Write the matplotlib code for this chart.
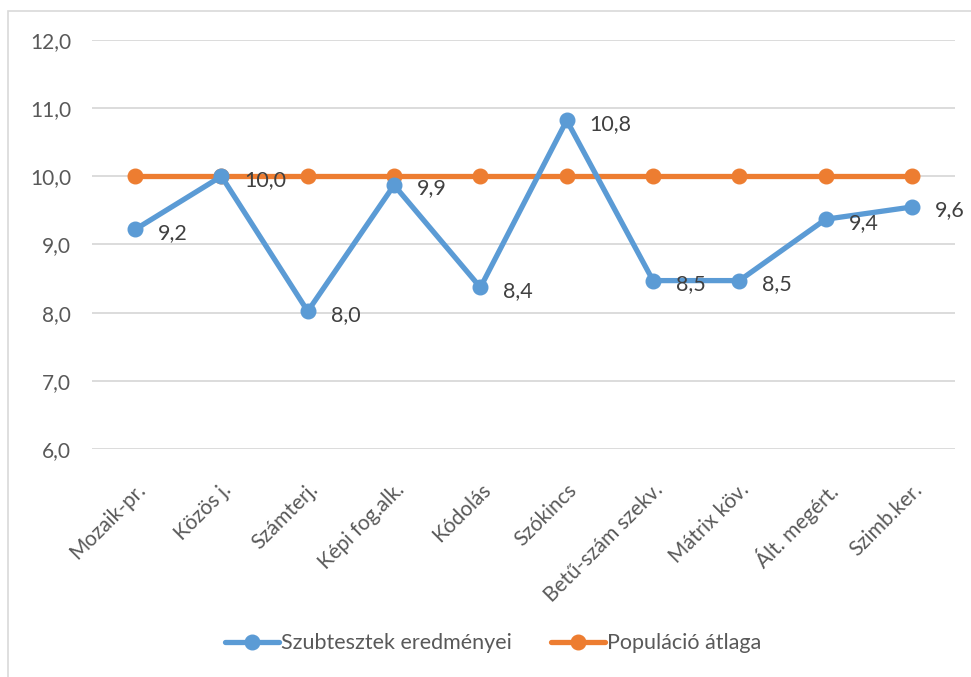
import matplotlib
matplotlib.use("Agg")
import matplotlib.pyplot as plt
from matplotlib.patches import Rectangle

categories = ["Mozaik-pr.", "Közös j.", "Számterj.", "Képi fog.alk.", "Kódolás",
              "Szókincs", "Betű-szám szekv.", "Mátrix köv.", "Ált. megért.", "Szimb.ker."]
subtests = [9.22, 10.0, 8.02, 9.87, 8.37, 10.82, 8.47, 8.47, 9.37, 9.55]
population = [10.0] * 10
series_names = ["Szubtesztek eredményei", "Populáció átlaga"]
yticks = [6.0, 7.0, 8.0, 9.0, 10.0, 11.0, 12.0]

plt.rcParams['font.family'] = ['Lato', 'DejaVu Sans']

fig = plt.figure(figsize=(9.71, 6.77), dpi=100)
ax = fig.add_axes([0.0947, 0.3368, 0.889, 0.6042])

blue = "#5b9bd5"
orange = "#ed7d31"
x = list(range(len(categories)))

ax.plot(x, subtests, color=blue, lw=3.8, marker='o', ms=10.5, label=series_names[0], zorder=3,
        solid_capstyle='round')
ax.plot(x, population, color=orange, lw=3.8, marker='o', ms=10.5, label=series_names[1], zorder=2,
        solid_capstyle='round')

for xi, v in zip(x, subtests):
    ax.annotate(f"{v:.1f}".replace('.', ','), (xi, v), xytext=(16.5, -1), textcoords='offset points',
                ha='left', va='center_baseline', fontsize=15.5, color='#404040', zorder=4)

ax.set_xlim(-0.5, len(categories) - 0.5)
ax.set_ylim(6.0, 12.0)
ax.set_yticks(yticks)
ax.set_yticklabels([f"{t:.1f}".replace('.', ',') for t in yticks], fontsize=15, color='#595959')
ax.set_xticks(x)
ax.set_xticklabels(categories, rotation=45, ha='right', va='top', rotation_mode='anchor',
                   fontsize=15, color='#595959')
ax.tick_params(axis='both', length=0)
ax.tick_params(axis='y', pad=15)
ax.tick_params(axis='x', pad=22)
ax.grid(axis='y', color='#d9d9d9', lw=1.3)
ax.set_axisbelow(True)
for s in ax.spines.values():
    s.set_visible(False)

leg = fig.legend(loc='center', bbox_to_anchor=(0.508, 0.05), ncol=2, frameon=False,
                 fontsize=15.5, handlelength=2.5, handletextpad=0.1, columnspacing=1.8)
for t in leg.get_texts():
    t.set_color('#595959')

fig.patches.append(Rectangle((8 / 971, -0.01), 1.1, 1 - 11 / 677 + 0.01, transform=fig.transFigure,
                             fill=False, edgecolor='#d9d9d9', lw=1.2))

fig.savefig("out.png", dpi=100)
